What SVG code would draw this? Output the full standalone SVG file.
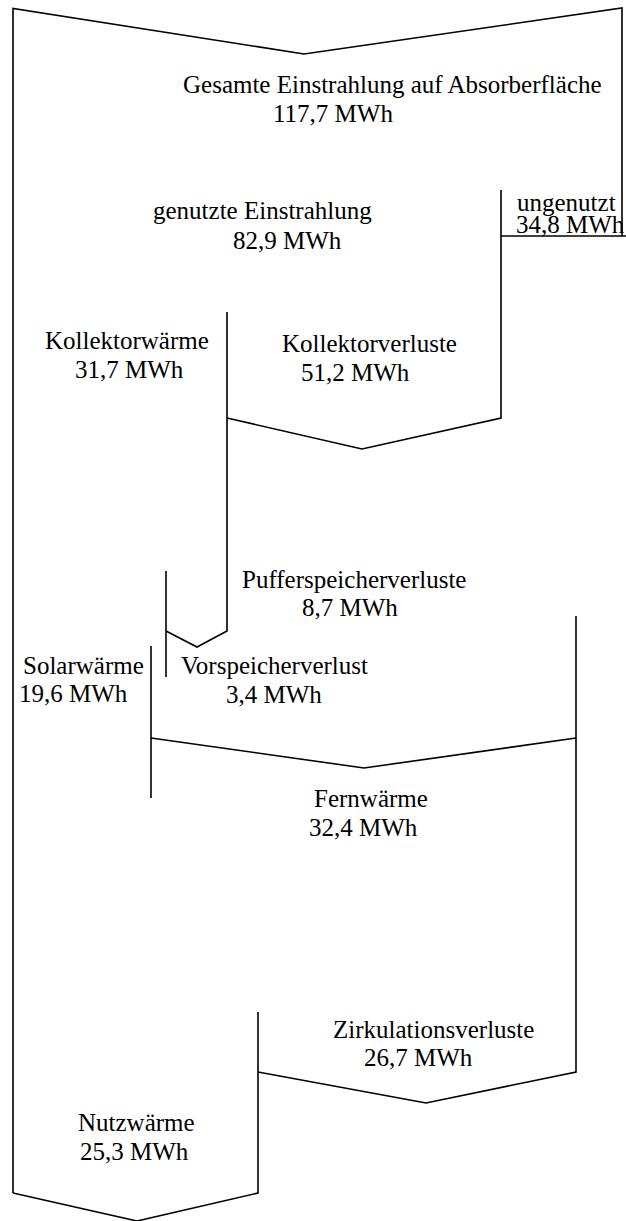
<svg xmlns="http://www.w3.org/2000/svg" width="626" height="1221" viewBox="0 0 626 1221">
<style>
.ln{fill:none;stroke:#000;stroke-width:1.6;stroke-linejoin:miter}
.t{font-family:"Liberation Serif","Times New Roman",serif;font-size:25px;fill:#000}
</style>
<rect width="626" height="1221" fill="#fff"/>
<g id="connectors">
<path class="ln" d="M13,1193 V8.5 L304,54 L622,8 V236"/>
<path class="ln" d="M501,190 V418 L362,449 L227,418"/>
<path class="ln" d="M501,236 H626"/>
<path class="ln" d="M227,312 V631 L197,647 L166,631"/>
<path class="ln" d="M166,571 V677"/>
<path class="ln" d="M151,646 V798"/>
<path class="ln" d="M151,738 L364,768 L576,738"/>
<path class="ln" d="M576,616 V1072 L426,1103 L258,1072"/>
<path class="ln" d="M258,1012 V1193 L137,1221 L13,1193"/>
</g>
<g id="gesamte"><text class="t" x="183" y="93">Gesamte Einstrahlung auf Absorberfläche</text><text class="t" x="273" y="122">117,7 MWh</text></g>
<g id="genutzt"><text class="t" x="153" y="219">genutzte Einstrahlung</text><text class="t" x="233" y="249">82,9 MWh</text></g>
<g id="ungenutzt"><text class="t" x="517" y="211">ungenutzt</text><text class="t" x="516" y="233">34,8 MWh</text></g>
<g id="kollektorwaerme"><text class="t" x="45" y="349">Kollektorwärme</text><text class="t" x="75" y="378">31,7 MWh</text></g>
<g id="kollektorverluste"><text class="t" x="282" y="352">Kollektorverluste</text><text class="t" x="301" y="381">51,2 MWh</text></g>
<g id="pufferspeicherverluste"><text class="t" x="242" y="588">Pufferspeicherverluste</text><text class="t" x="302" y="616">8,7 MWh</text></g>
<g id="solarwaerme"><text class="t" x="23" y="674">Solarwärme</text><text class="t" x="19" y="702">19,6 MWh</text></g>
<g id="vorspeicherverlust"><text class="t" x="181" y="674">Vorspeicherverlust</text><text class="t" x="226" y="703">3,4 MWh</text></g>
<g id="fernwaerme"><text class="t" x="314" y="807">Fernwärme</text><text class="t" x="309" y="836">32,4 MWh</text></g>
<g id="zirkulationsverluste"><text class="t" x="333" y="1038">Zirkulationsverluste</text><text class="t" x="364" y="1066">26,7 MWh</text></g>
<g id="nutzwaerme"><text class="t" x="78" y="1131">Nutzwärme</text><text class="t" x="80" y="1160">25,3 MWh</text></g>
</svg>
